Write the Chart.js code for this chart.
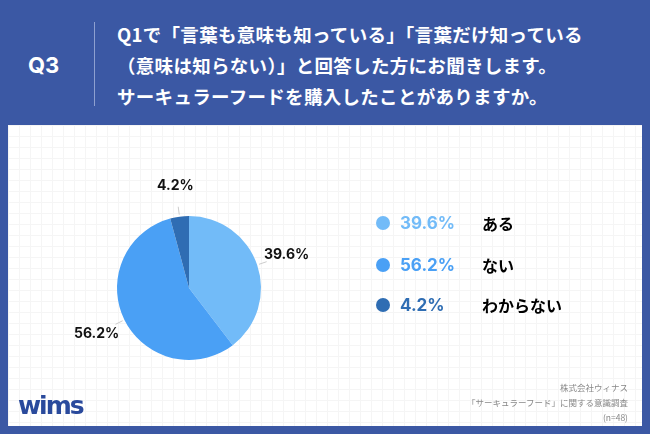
<!DOCTYPE html>
<html><head><meta charset="utf-8">
<script src="https://cdn.jsdelivr.net/npm/chart.js@4"></script>
<style>
body{margin:0;width:650px;height:434px;background:#3b58a4;font-family:"Noto Sans CJK JP","Noto Sans",sans-serif;position:relative;overflow:hidden}
#q{position:absolute;left:28px;top:52px;color:#fff;font-weight:bold;font-size:22px;font-family:Inter,"Noto Sans",sans-serif}
#div{position:absolute;left:94px;top:22px;width:1px;height:84px;background:#8ea0d0}
#title{position:absolute;left:117px;top:19px;color:#fff;font-weight:bold;font-size:18.5px;line-height:31px;letter-spacing:0.3px}
#panel{position:absolute;left:8px;top:125px;width:634px;height:301px;background-color:#fff;
background-image:linear-gradient(#f5f5f5 1px,transparent 1px),linear-gradient(90deg,#f5f5f5 1px,transparent 1px);background-size:11px 11px}
#c{position:absolute;left:0;top:0}
.leg{position:absolute;left:376px;font-weight:bold;font-size:16px;display:flex;align-items:center}
.dot{width:14px;height:14px;border-radius:50%;margin-right:10px}
.pct{font-family:Inter,"Noto Sans",sans-serif;width:82px;font-size:17px}
#src{position:absolute;right:22px;top:380px;text-align:right;color:#888;font-size:8.5px;line-height:15px}
#logo{position:absolute;left:18px;top:391px;color:#2a4a9c;font-weight:bold;font-size:25px;font-family:"DejaVu Sans";letter-spacing:-2px}
</style></head><body>
<div id="q">Q3</div><div id="div"></div>
<div id="title">Q1で「言葉も意味も知っている」「言葉だけ知っている<br>（意味は知らない）」と回答した方にお聞きします。<br>サーキュラーフードを購入したことがありますか。</div>
<div id="panel"><canvas id="c" width="634" height="301"></canvas></div>
<div id="logo">wims</div>
<div id="src">株式会社ウィナス<br>「サーキュラーフード」に関する意識調査<br>(n=48)</div>
<script>
const labels = ['ある', 'ない', 'わからない'];
const values = [39.6, 56.2, 4.2];
const colors = ['#72bbf8', '#4aa0f5', '#2f6db3'];
const legendTops = [211, 253, 293];

labels.forEach((l, i) => {
    const d = document.createElement('div');
    d.className = 'leg';
    d.style.top = legendTops[i] + 'px';
    d.innerHTML = `<div class="dot" style="background:${colors[i]}"></div><span class="pct" style="color:${colors[i]}">${values[i].toFixed(1)}%</span><span>${l}</span>`;
    document.body.appendChild(d);
});

const outLabels = {
    id: 'outLabels',
    afterDatasetsDraw(chart) {
        const ctx = chart.ctx;
        chart.getDatasetMeta(0).data.forEach((arc, i) => {
            const a = (arc.startAngle + arc.endAngle) / 2;
            const r = arc.outerRadius;
            const cx = arc.x, cy = arc.y;
            ctx.save();
            ctx.strokeStyle = '#ccc';
            ctx.lineWidth = 1;
            ctx.beginPath();
            ctx.moveTo(cx + Math.cos(a) * (r + 2), cy + Math.sin(a) * (r + 2));
            ctx.lineTo(cx + Math.cos(a) * (r + 10), cy + Math.sin(a) * (r + 10));
            ctx.stroke();
            ctx.fillStyle = '#111';
            ctx.font = 'bold 14px Inter, "Noto Sans", sans-serif';
            ctx.textAlign = 'center';
            ctx.textBaseline = 'middle';
            const tr = r + 31;
            ctx.fillText(values[i].toFixed(1) + '%', cx + Math.cos(a) * tr, cy + Math.sin(a) * tr);
            ctx.restore();
        });
    }
};

new Chart(document.getElementById('c'), {
    type: 'pie',
    data: { labels: labels, datasets: [{ data: values, backgroundColor: colors, borderWidth: 0 }] },
    options: {
        responsive: false,
        animation: false,
        layout: { padding: { left: 109, right: 381, top: 91, bottom: 66 } },
        plugins: { legend: { display: false }, tooltip: { enabled: false } }
    },
    plugins: [outLabels]
});
</script>
</body></html>
